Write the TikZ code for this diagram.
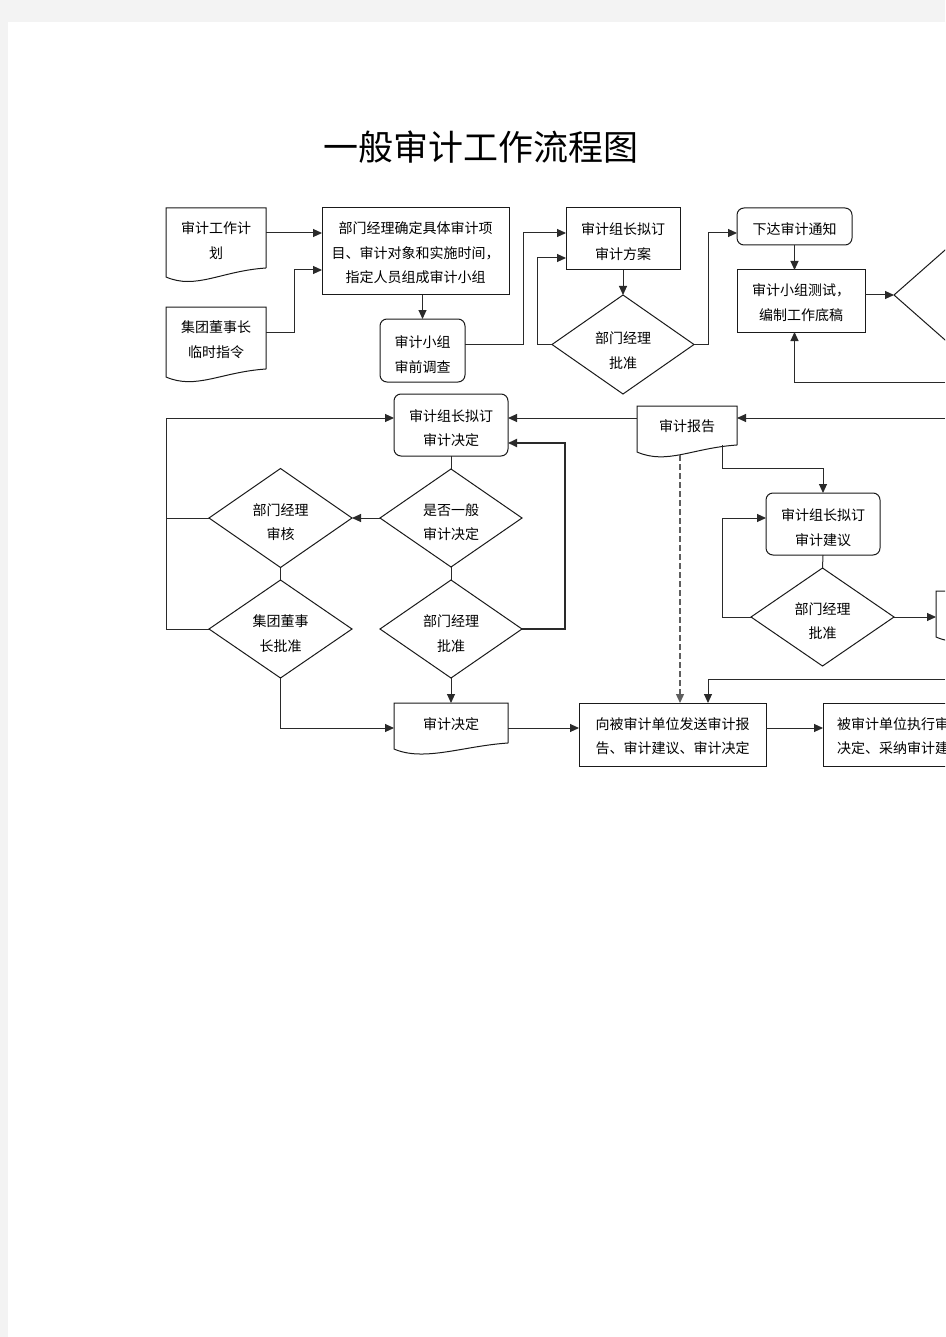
\documentclass[tikz,border=0pt]{standalone}
\usepackage{fontspec}
\setmainfont{Noto Sans CJK SC}
\usetikzlibrary{arrows.meta,shapes.geometric,calc}
\definecolor{pagegray}{HTML}{F3F3F3}
\definecolor{linec}{HTML}{1A1A1A}
\definecolor{conc}{HTML}{2A2A2A}
\definecolor{dashc}{HTML}{5E5E5E}
\tikzset{
 bord/.style={draw=linec, line width=1pt},
 boxtext/.style={font=\fontsize{14pt}{24.5pt}\selectfont, align=center, text=black, inner sep=0pt, outer sep=0pt},
 rectbox/.style={rectangle, bord, boxtext},
 roundbox/.style={rectangle, rounded corners=7pt, bord, boxtext},
 decide/.style={diamond, bord, boxtext},
 docbox/.style={rectangle, draw=none, boxtext},
 arr/.style={draw=conc, line width=1pt, -{Triangle[length=9pt,width=8pt]}},
 plain/.style={draw=conc, line width=1pt},
 boldarr/.style={draw=conc, line width=1.8pt, -{Triangle[length=9pt,width=8pt]}},
 dasharr/.style={draw=dashc, line width=1.3pt, dash pattern=on 6pt off 3pt, -{Triangle[length=9pt,width=8pt]}},
}
\newcommand\docshape[2]{\draw[bord] (#1.south east) -- (#1.north east) -- (#1.north west) -- ([yshift=-#2pt]#1.south west) .. controls ([xshift=30pt,yshift=-#2pt-13pt]#1.south west) and ([xshift=-45pt,yshift=-3pt]#1.south east) .. (#1.south east);}
\begin{document}
\begin{tikzpicture}[x=1pt,y=-1pt]
\useasboundingbox (0,0) rectangle (945,1337);
\clip (0,0) rectangle (945,1337);
\fill[pagegray] (0,0) rectangle (945,1337);
\fill[white] (8,22) rectangle (945,1337);

\node[font=\fontsize{35pt}{40pt}\selectfont] (title) at (481,147) {一般审计工作流程图};

% top row
\node[docbox, minimum width=100pt, minimum height=60pt,
  label={[name=plan-t,boxtext,yshift=-2.5pt]center:{审计工作计\\划}}] (plan) at (216,238) {};
\docshape{plan}{9}
\node[docbox, minimum width=100pt, minimum height=62pt,
  label={[name=dir-t,boxtext,yshift=-1.5pt]center:{集团董事长\\临时指令}}] (dir) at (216,338) {};
\docshape{dir}{8}
\node[rectbox, minimum width=187pt, minimum height=87pt,
  label={[name=task-t,boxtext,yshift=-1.5pt]center:{部门经理确定具体审计项\\目、审计对象和实施时间，\\指定人员组成审计小组}}] (task) at (415.5,251.5) {};
\node[roundbox, minimum width=85pt, minimum height=63pt,
  label={[name=survey-t,boxtext,yshift=-4pt]center:{审计小组\\审前调查}}] (survey) at (422.5,350.5) {};
\node[rectbox, minimum width=114pt, minimum height=62pt,
  label={[name=scheme-t,boxtext,yshift=-2.5pt]center:{审计组长拟订\\审计方案}}] (scheme) at (623,239) {};
\node[decide, minimum width=142pt, minimum height=99pt,
  label={[name=d1-t,boxtext,yshift=-6pt]center:{部门经理\\批准}}] (d1) at (623,344.5) {};
\node[roundbox, minimum width=115pt, minimum height=37pt,
  label={[name=issue-t,boxtext,yshift=-3pt]center:{下达审计通知}}] (issue) at (794.5,226.5) {};
\node[rectbox, minimum width=128pt, minimum height=62pt,
  label={[name=test-t,boxtext,yshift=-1.5pt]center:{审计小组测试，\\编制工作底稿}}] (test) at (801,301) {};
\node[decide, minimum width=142pt, minimum height=125pt] (dR) at (965,295) {};

% middle
\node[roundbox, minimum width=114pt, minimum height=62pt,
  label={[name=draft-t,boxtext,yshift=-3pt]center:{审计组长拟订\\审计决定}}] (draft) at (451,425) {};
\node[decide, minimum width=142pt, minimum height=98pt,
  label={[name=d2-t,boxtext,yshift=-4pt]center:{是否一般\\审计决定}}] (d2) at (451,518) {};
\node[decide, minimum width=143pt, minimum height=99pt,
  label={[name=d3-t,boxtext,yshift=-4pt]center:{部门经理\\审核}}] (d3) at (280.5,518) {};
\node[decide, minimum width=143pt, minimum height=98pt,
  label={[name=d4-t,boxtext,yshift=-4.5pt]center:{集团董事\\长批准}}] (d4) at (280.5,629) {};
\node[decide, minimum width=142pt, minimum height=98pt,
  label={[name=d5-t,boxtext,yshift=-4.5pt]center:{部门经理\\批准}}] (d5) at (451,629) {};
\node[docbox, minimum width=114pt, minimum height=40pt,
  label={[name=decision-t,boxtext,yshift=-1pt]center:{审计决定}}] (decision) at (451,723) {};
\docshape{decision}{6}

\node[docbox, minimum width=100pt, minimum height=39pt,
  label={[name=report-t,boxtext,yshift=-1pt]center:{审计报告}}] (report) at (687,425.5) {};
\docshape{report}{7}
\node[roundbox, minimum width=114pt, minimum height=62pt,
  label={[name=suggestion-t,boxtext,yshift=-3.5pt]center:{审计组长拟订\\审计建议}}] (suggestion) at (823,524) {};
\node[decide, minimum width=143pt, minimum height=98pt,
  label={[name=d6-t,boxtext,yshift=-4pt]center:{部门经理\\批准}}] (d6) at (822.5,617) {};
\node[docbox, minimum width=100pt, minimum height=40pt] (rdoc) at (986,611) {};
\docshape{rdoc}{6}

\node[rectbox, minimum width=187pt, minimum height=63pt,
  label={[name=send-t,boxtext,yshift=-1.5pt]center:{向被审计单位发送审计报\\告、审计建议、审计决定}}] (send) at (672.5,734.5) {};
\node[rectbox, minimum width=154pt, minimum height=63pt,
  label={[name=exec-t,boxtext,yshift=-1.5pt,text width=126pt,align=left]center:{被审计单位执行审\\决定、采纳审计建}}] (exec) at (900,734.5) {};

% free ends at the right page edge
\coordinate (eR1) at (945,382);
\coordinate (eR2) at (945,418);
\coordinate (eR3) at (945,679);

% connectors, top
\draw[arr] ([yshift=5pt]plan.east) -- ([yshift=5pt]plan.east -| task.west);
\draw[arr] ([yshift=6pt]dir.east) -- ++(28,0) |- ([yshift=-18.5pt]task.west);
\draw[arr] (task.south -| survey.north) -- (survey.north);
\draw[arr] ([yshift=6.5pt]survey.east) -- ++(58,0) |- ([yshift=6pt]scheme.west);
\draw[arr] (scheme.south) -- (d1.north);
\draw[arr] (d1.west) -- ++(-15,0) |- ([yshift=-19pt]scheme.west);
\draw[arr] (d1.east) -- ++(14,0) |- ([yshift=-6.5pt]issue.west);
\draw[arr] (issue.south) -- (issue.south |- test.north);
\draw[arr] (test.east |- dR.west) -- (dR.west);
\draw[arr] (eR1) -| (issue.south |- test.south);

% connectors, middle left
\draw[arr] (d4.west) -- ++(-43,0) |- ([yshift=7pt]draft.west);
\draw[plain] (d3.west) -- ++(-43,0);
\draw[plain] (draft.south) -- (d2.north);
\draw[arr] (d2.west) -- (d3.east);
\draw[plain] (d3.south) -- (d4.north);
\draw[plain] (d2.south) -- (d5.north);
\draw[arr] (d5.south) -- (decision.north);
\draw[arr] (d4.south) |- ([yshift=-5pt]decision.west);
\draw[boldarr] (d5.east) -- ++(43,0) |- ([yshift=-18pt]draft.east);

% connectors, middle right
\draw[arr] ([yshift=7.5pt]report.west) -- ([yshift=7.5pt]report.west -| draft.east);
\draw[arr] (eR2) -- (eR2 -| report.east);
\draw[dasharr] ([xshift=-7pt,yshift=-10pt]report.south) -- ([xshift=-7pt]report.south |- send.north);
\draw[arr] ([xshift=35pt]report.south) -- ++(0,23) -| (suggestion.north);
\draw[plain] (suggestion.south) -- (d6.north);
\draw[arr] (d6.west) -- ++(-29,0) |- ([yshift=6pt]suggestion.west);
\draw[arr] (d6.east) -- (d6.east -| rdoc.west);
\draw[arr] (eR3) -| ([xshift=35.5pt]send.north);

% bottom row
\draw[arr] ([yshift=-5pt]decision.east) -- ([yshift=-5pt]decision.east -| send.west);
\draw[arr] ([yshift=6.5pt]send.east) -- ([yshift=6.5pt]send.east -| exec.west);
\end{tikzpicture}
\end{document}
